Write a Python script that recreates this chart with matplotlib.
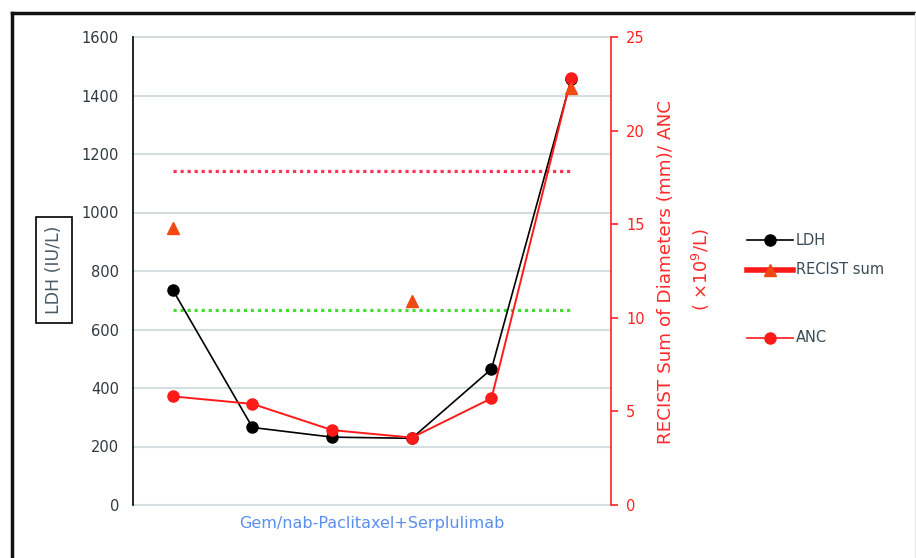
import matplotlib
matplotlib.use("Agg")
import matplotlib.pyplot as plt
from matplotlib.lines import Line2D

# данные
visits = [0, 1, 2, 3, 4, 5]
ldh = [735, 265, 232, 228, 465, 1455]
anc = [5.8, 5.4, 4.0, 3.6, 5.7, 22.8]
recist_x = [0, 3, 5]
recist = [14.8, 10.9, 22.3]
ldh_ticks = [0, 200, 400, 600, 800, 1000, 1200, 1400, 1600]
right_ticks = [0, 5, 10, 15, 20, 25]
red_ref = 1142   # красная пунктирная линия (шкала LDH)
green_ref = 665  # зелёная пунктирная линия (шкала LDH)

fig = plt.figure(figsize=(9.16, 5.58), dpi=100)
W, H = 916, 558


def fx(px):
    return px / W


def fy(py):
    return 1 - py / H


ax = fig.add_axes([fx(133), fy(505), fx(611) - fx(133), fy(37) - fy(505)])
ax.set_xlim(-0.5, 5.5)
ax.set_ylim(0, 1600)
ax.set_yticks(ldh_ticks)
ax.set_xticks([])
ax.yaxis.grid(True, color="#d6dde0", linewidth=1.5, clip_on=False)
ax.set_axisbelow(True)
for s in ["top", "right", "bottom"]:
    ax.spines[s].set_visible(False)
ax.spines["left"].set_color("black")
ax.spines["left"].set_linewidth(1.2)
ax.tick_params(axis="y", length=0, pad=10, labelsize=10.5, labelcolor="#2f3a40")

# пунктирные референсные линии
ax.plot(visits, [red_ref] * len(visits), color="#ff3355", linestyle=(0, (1, 1.2)),
        linewidth=2.3, zorder=2)
ax.plot(visits, [green_ref] * len(visits), color="#44dd33", linestyle=(0, (1, 1.2)),
        linewidth=2.3, zorder=2)

ax.plot(visits, ldh, color="black", linewidth=1.2, marker="o", markersize=8, zorder=3)

ax.text(0.5, -0.04, "Gem/nab-Paclitaxel+Serplulimab", transform=ax.transAxes,
        ha="center", va="center", fontsize=11.5, color="#5b8ff0")

# правая ось
ax2 = ax.twinx()
ax2.set_xlim(-0.5, 5.5)
ax2.set_ylim(0, 25)
ax2.set_yticks(right_ticks)
for s in ["top", "left", "bottom"]:
    ax2.spines[s].set_visible(False)
ax2.spines["right"].set_color("#ff2222")
ax2.spines["right"].set_linewidth(1.2)
ax2.tick_params(axis="y", colors="#ff2222", length=5, width=1.2, pad=6,
                labelsize=10.5)

ax2.plot(visits, anc, color="#ff1a1a", linewidth=1.4, marker="o", markersize=8, zorder=3)
ax2.plot(recist_x, recist, linestyle="none", marker="^", markersize=8,
         color="#f04a12", zorder=4)

# подписи осей
fig.text(fx(666), fy(272), "RECIST Sum of Diameters (mm)/ ANC", rotation=90,
         ha="center", va="center", fontsize=13.2, color="#ff2a2a")
fig.text(fx(701), fy(270), "( ×10$^9$/L)", rotation=90,
         ha="center", va="center", fontsize=13, color="#ff2a2a")
fig.text(fx(54), fy(270), "LDH (IU/L)", rotation=90, ha="center", va="center",
         fontsize=12.5, color="#4a5c68",
         bbox=dict(boxstyle="square,pad=0.5", facecolor="white",
                   edgecolor="black", linewidth=1.2))

# легенда вручную
legend_items = [
    ("LDH", 240, "black", 1.2, "o", "black"),
    ("RECIST sum", 270, "#ff1a1a", 4, "^", "#f04a12"),
    ("ANC", 338, "#ff1a1a", 1.2, "o", "#ff1a1a"),
]
for label, py, lc, lw, mk, mc in legend_items:
    fig.add_artist(Line2D([fx(747), fx(793)], [fy(py), fy(py)], color=lc, linewidth=lw))
    fig.add_artist(Line2D([fx(770)], [fy(py)], marker=mk, markersize=8, color=mc,
                          linestyle="none"))
    fig.text(fx(796), fy(py), label, ha="left", va="center", fontsize=10.5,
             color="#3a4a55")

# рамка
fig.add_artist(Line2D([fx(12), fx(916)], [fy(13), fy(13)], color="#111111", linewidth=2.5))
fig.add_artist(Line2D([fx(12), fx(12)], [fy(13), 0], color="#111111", linewidth=2.5))
fig.add_artist(Line2D([fx(915), fx(915)], [fy(13), 0], color="#e8e8e8", linewidth=1))

fig.savefig("out.png", dpi=100)
